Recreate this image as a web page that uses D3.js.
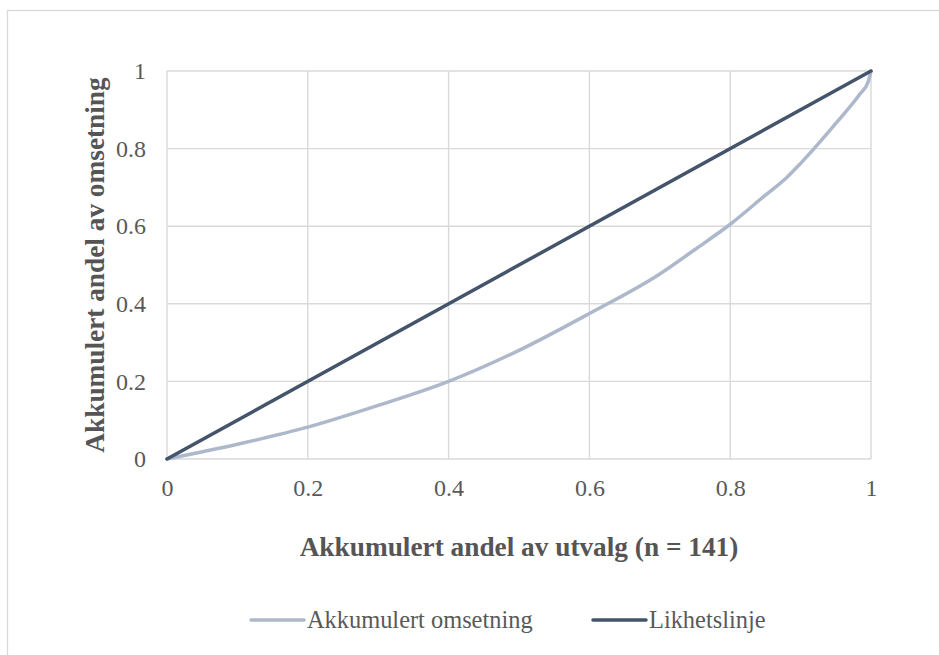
<!DOCTYPE html>
<html>
<head>
<meta charset="utf-8">
<script src="https://cdn.jsdelivr.net/npm/d3@7"></script>
<style>
  html, body { margin: 0; padding: 0; background: #fff; }
  svg { display: block; }
</style>
</head>
<body>
<svg id="chart" width="939" height="655"></svg>
<script>
// Cumulative share of sample (x) and cumulative share of turnover (y)
const sampleShare   = [0, 0.1, 0.2, 0.3, 0.4, 0.5, 0.6, 0.7, 0.75, 0.8, 0.85, 0.88, 0.9, 0.95, 0.984, 0.996, 1];
const turnoverShare = [0, 0.038, 0.082, 0.138, 0.2, 0.28, 0.375, 0.477, 0.54, 0.605, 0.68, 0.725, 0.762, 0.865, 0.94, 0.972, 1];
// Line of equality
const equalityX = [0, 1];
const equalityY = [0, 1];

const xTicks = [0, 0.2, 0.4, 0.6, 0.8, 1];
const yTicks = [0, 0.2, 0.4, 0.6, 0.8, 1];

const seriesNames = ["Akkumulert omsetning", "Likhetslinje"];
const xTitle = "Akkumulert andel av utvalg (n = 141)";
const yTitle = "Akkumulert andel av omsetning";

const colors = { lorenz: "#ADB9CA", equality: "#44546A", grid: "#D9D9D9", text: "#595959", title: "#555555" };
const font = '"Liberation Serif"';

const svg = d3.select("#chart");

// outer chart frame
svg.append("rect")
  .attr("x", 7.5).attr("y", 10.5)
  .attr("width", 1000).attr("height", 1000)
  .attr("fill", "none").attr("stroke", colors.grid).attr("stroke-width", 1.3);

const x = d3.scaleLinear().domain([0, 1]).range([167, 871]);
const y = d3.scaleLinear().domain([0, 1]).range([459, 71]);

// gridlines
const g = svg.append("g");
g.selectAll("line.vg").data(xTicks).join("line")
  .attr("x1", d => x(d)).attr("x2", d => x(d))
  .attr("y1", y(0)).attr("y2", y(1))
  .attr("stroke", colors.grid).attr("stroke-width", 1.4);
g.selectAll("line.hg").data(yTicks).join("line")
  .attr("y1", d => y(d)).attr("y2", d => y(d))
  .attr("x1", x(0)).attr("x2", x(1))
  .attr("stroke", colors.grid).attr("stroke-width", 1.4);

// tick labels via d3 axes
const xAxis = svg.append("g")
  .attr("transform", `translate(0,${y(0)})`)
  .call(d3.axisBottom(x).tickValues(xTicks).tickSize(0).tickPadding(20).tickFormat(d3.format("")));
const yAxis = svg.append("g")
  .attr("transform", `translate(${x(0)},0)`)
  .call(d3.axisLeft(y).tickValues(yTicks).tickSize(0).tickPadding(21).tickFormat(d3.format("")));
[xAxis, yAxis].forEach(a => {
  a.attr("font-family", null).attr("font-size", null);
  a.select(".domain").remove();
  a.selectAll("text")
    .style("font-family", font).style("font-size", "24px")
    .attr("fill", colors.text);
});

// series
const lorenz = sampleShare.map((v, i) => [v, turnoverShare[i]]);
const equality = equalityX.map((v, i) => [v, equalityY[i]]);
const line = d3.line().x(d => x(d[0])).y(d => y(d[1])).curve(d3.curveMonotoneX);

svg.append("path").datum(lorenz)
  .attr("d", line).attr("fill", "none")
  .attr("stroke", colors.lorenz).attr("stroke-width", 3.5)
  .attr("stroke-linecap", "round").attr("stroke-linejoin", "round");
svg.append("path").datum(equality)
  .attr("d", line).attr("fill", "none")
  .attr("stroke", colors.equality).attr("stroke-width", 3.5)
  .attr("stroke-linecap", "round").attr("stroke-linejoin", "round");

// axis titles
svg.append("text")
  .attr("x", (x(0) + x(1)) / 2).attr("y", 556)
  .attr("text-anchor", "middle")
  .style("font-family", font).style("font-size", "27.3px").style("font-weight", "bold")
  .attr("fill", colors.title).text(xTitle);
svg.append("text")
  .attr("transform", `translate(104,${(y(0) + y(1)) / 2}) rotate(-90)`)
  .attr("text-anchor", "middle")
  .style("font-family", font).style("font-size", "27.3px").style("font-weight", "bold")
  .attr("fill", colors.title).text(yTitle);

// legend
const legendItems = [
  { name: seriesNames[0], color: colors.lorenz, x: 250 },
  { name: seriesNames[1], color: colors.equality, x: 592 }
];
const lg = svg.append("g").selectAll("g").data(legendItems).join("g")
  .attr("transform", d => `translate(${d.x},620)`);
lg.append("line")
  .attr("x1", 1).attr("x2", 54).attr("y1", 0).attr("y2", 0)
  .attr("stroke", d => d.color).attr("stroke-width", 3.5).attr("stroke-linecap", "round");
lg.append("text")
  .attr("x", 57).attr("y", 8)
  .style("font-family", font).style("font-size", "24.4px")
  .attr("fill", colors.text).text(d => d.name);
</script>
</body>
</html>
